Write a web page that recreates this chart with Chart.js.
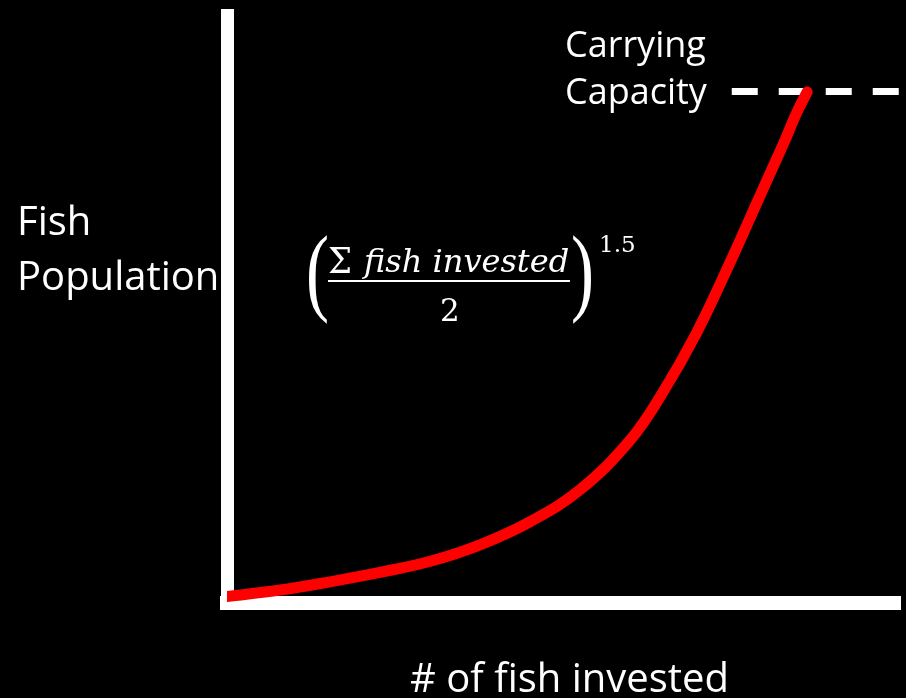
<!DOCTYPE html>
<html>
<head>
<meta charset="utf-8">
<script src="https://cdn.jsdelivr.net/npm/chart.js@4.4.1/dist/chart.umd.min.js"></script>
<style>
  html, body { margin: 0; padding: 0; background: #000; }
  canvas { display: block; }
</style>
</head>
<body>
<canvas id="chart-fish" width="906" height="698"></canvas>
<script>
// fish invested (x, 0-100) vs fish population (y, 0-100)
const investedX   = [0, 7.9, 15.3, 22.7, 30.2, 37.6, 45.0, 52.4, 59.9, 64.8, 69.8, 74.7, 78.9, 82.6, 84.7, 86.2];
const populationY = [1.1, 2.2, 3.6, 5.2, 7.1, 9.9, 13.8, 19.2, 27.7, 35.9, 46.0, 57.8, 68.5, 77.9, 83.5, 86.9];

// carrying capacity dashed line
const capacityX = [75, 100];
const capacityY = [87, 87];

const yTitle = ['Fish', 'Population'];
const xTitle = '# of fish invested';
const capacityLabel = ['Carrying', 'Capacity'];

// text drawn over the chart (labels + formula)
const labelsPlugin = {
    id: 'labels',
    afterDraw(chart) {
        const ctx = chart.ctx;
        ctx.save();
        ctx.fillStyle = '#fff';
        ctx.textBaseline = 'alphabetic';
        ctx.textAlign = 'left';

        ctx.font = '40px "Open Sans"';
        ctx.fillText(yTitle[0], 17, 235);
        ctx.fillText(yTitle[1], 17, 290);
        ctx.fillText(xTitle, 410, 692);

        ctx.font = '36px "Open Sans"';
        ctx.fillText(capacityLabel[0], 565, 57);
        ctx.fillText(capacityLabel[1], 565, 104);

        // formula
        ctx.font = '36px "DejaVu Serif"';
        ctx.fillText('\u03A3', 328, 273, 24);
        ctx.font = 'italic 32px "DejaVu Serif"';
        ctx.fillText('fish invested', 364, 272, 206);
        ctx.fillRect(328, 280, 242, 2);
        ctx.font = '31px "DejaVu Serif"';
        ctx.fillText('2', 440, 321);
        ctx.font = '23px "DejaVu Serif"';
        ctx.fillText('1.5', 599, 252);

        ctx.font = '92px "Liberation Serif"';
        ctx.save();
        ctx.translate(306, 303);
        ctx.scale(0.75, 1.05);
        ctx.fillText('(', 0, 0);
        ctx.restore();
        ctx.save();
        ctx.translate(571, 303);
        ctx.scale(0.75, 1.05);
        ctx.fillText(')', 0, 0);
        ctx.restore();

        ctx.restore();
    }
};

const ctx = document.getElementById('chart-fish');
const fishChart = new Chart(ctx, {
    type: 'line',
    data: {
        datasets: [{
            label: 'Fish population',
            data: investedX.map((x, i) => ({ x: x, y: populationY[i] })),
            borderColor: '#ff0000',
            borderWidth: 11,
            borderCapStyle: 'round',
            borderJoinStyle: 'round',
            tension: 0.4,
            pointRadius: 0,
            fill: false
        }, {
            label: 'Carrying capacity',
            data: capacityX.map((x, i) => ({ x: x, y: capacityY[i] })),
            borderColor: '#ffffff',
            borderWidth: 7,
            borderDash: [26, 21],
            pointRadius: 0,
            fill: false
        }]
    },
    options: {
        responsive: false,
        animation: false,
        layout: {
            padding: { left: 227, right: 6, top: 15, bottom: 95 }
        },
        plugins: {
            legend: { display: false },
            tooltip: { enabled: false }
        },
        scales: {
            x: {
                type: 'linear',
                min: 0,
                max: 100,
                grid: { display: false, drawTicks: false },
                ticks: { display: false },
                border: { display: true, color: '#ffffff', width: 14 }
            },
            y: {
                min: 0,
                max: 100,
                grid: { display: false, drawTicks: false },
                ticks: { display: false },
                border: { display: true, color: '#ffffff', width: 13 }
            }
        }
    },
    plugins: [labelsPlugin]
});
</script>
</body>
</html>
